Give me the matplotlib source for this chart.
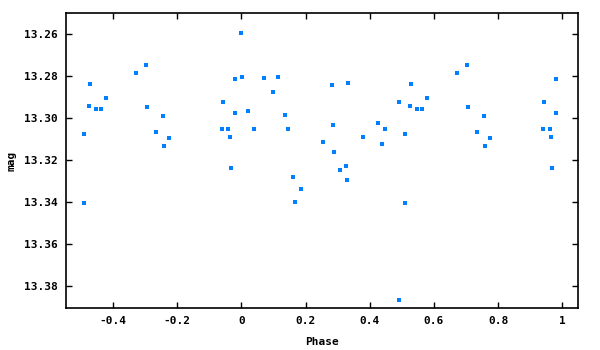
import numpy as np
import matplotlib
matplotlib.use("Agg")
import matplotlib.pyplot as plt

# Base observations: phase in [0, 1) and magnitude
phase = [0.000, 0.003, 0.022, 0.040, 0.072, 0.100, 0.115, 0.137, 0.146, 0.162,
         0.168, 0.187, 0.255, 0.283, 0.287, 0.290, 0.308, 0.327, 0.330, 0.333,
         0.380, 0.427, 0.439, 0.449, 0.492, 0.492,
         0.511, 0.511, 0.530, 0.526, 0.548, 0.564, 0.579, 0.673, 0.704, 0.707,
         0.735, 0.757, 0.760, 0.776, 0.941, 0.944, 0.960, 0.966, 0.969, 0.981, 0.981]
mag = [13.2595, 13.2805, 13.2967, 13.3052, 13.2810, 13.2876, 13.2805, 13.2986, 13.3052, 13.3281,
       13.3400, 13.3338, 13.3114, 13.2843, 13.3033, 13.3162, 13.3248, 13.3229, 13.3295, 13.2833,
       13.3090, 13.3024, 13.3124, 13.3052, 13.2924, 13.3867,
       13.3076, 13.3405, 13.2838, 13.2943, 13.2957, 13.2957, 13.2905, 13.2786, 13.2748, 13.2948,
       13.3067, 13.2990, 13.3133, 13.3095, 13.3052, 13.2924, 13.3052, 13.3090, 13.3238, 13.2814, 13.2976]

xticks = [-0.4, -0.2, 0, 0.2, 0.4, 0.6, 0.8, 1]
xticklabels = ["-0.4", "-0.2", "0", "0.2", "0.4", "0.6", "0.8", "1"]
yticks = [13.26, 13.28, 13.30, 13.32, 13.34, 13.36, 13.38]
yticklabels = ["13.26", "13.28", "13.30", "13.32", "13.34", "13.36", "13.38"]

p = np.array(phase)
m = np.array(mag)
wrap = p >= 0.5
px = np.concatenate([p, p[wrap] - 1.0])
pm = np.concatenate([m, m[wrap]])

plt.rcParams['font.family'] = ['DejaVu Sans Mono']
plt.rcParams['font.weight'] = 'bold'

fig = plt.figure(figsize=(6, 3.5), dpi=100)
ax = fig.add_axes([0.1095, 0.12, 0.8545, 0.842])
ax.scatter(px, pm, marker='s', s=5, color='#0080ff', linewidths=0)
ax.set_xlim(-0.547, 1.050)
ax.set_ylim(13.3903, 13.250)
ax.set_xticks(xticks)
ax.set_xticklabels(xticklabels)
ax.set_yticks(yticks)
ax.set_yticklabels(yticklabels)
ax.tick_params(direction='in', length=4, width=1, top=True, right=True,
               labelsize=8, colors='black', pad=6)
for s in ax.spines.values():
    s.set_linewidth(1.2)
ax.set_xlabel('Phase', fontsize=8, fontweight='bold', labelpad=8)
ax.set_ylabel('mag', fontsize=8, fontweight='bold', labelpad=5)
fig.savefig('out.png', dpi=100)
